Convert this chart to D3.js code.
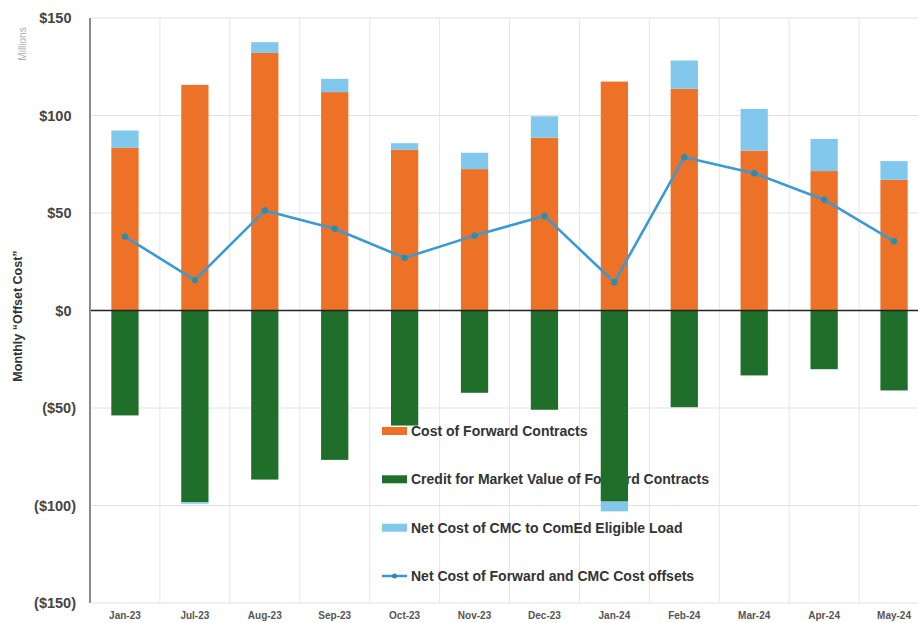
<!DOCTYPE html>
<html>
<head>
<meta charset="utf-8">
<script src="https://cdn.jsdelivr.net/npm/d3@7/dist/d3.min.js"></script>
<style>
  html, body { margin: 0; padding: 0; background: #fff; }
  svg { display: block; font-family: "Liberation Sans", Arial, sans-serif; }
</style>
</head>
<body>
<svg id="chart" width="918" height="623"></svg>
<script>
// Monthly offset cost components, $ millions
const months = ["Jan-23", "Jul-23", "Aug-23", "Sep-23", "Oct-23", "Nov-23",
                "Dec-23", "Jan-24", "Feb-24", "Mar-24", "Apr-24", "May-24"];
const forwardCost = [83.4, 115.7, 132.1, 112.0, 82.4, 72.5, 88.6, 117.4, 113.7, 82.0, 71.5, 67.0];
const marketCredit = [-53.8, -98.3, -86.7, -76.6, -59.0, -42.2, -50.9, -98.0, -49.6, -33.3, -30.1, -41.0];
const cmcNetCost = [8.9, -0.8, 5.5, 6.8, 3.4, 8.4, 11.0, -5.0, 14.5, 21.4, 16.5, 9.6];
const netOffset = [37.9, 15.6, 51.3, 41.9, 27.0, 38.4, 48.5, 14.5, 78.6, 70.4, 56.8, 35.5];
const yTicks = [-150, -100, -50, 0, 50, 100, 150];

const seriesNames = ["Cost of Forward Contracts",
                     "Credit for Market Value of Forward Contracts",
                     "Net Cost of CMC to ComEd Eligible Load",
                     "Net Cost of Forward and CMC Cost offsets"];
const colors = ["#EE7128", "#1F6F2B", "#82C8EC", "#3A9BD3"];

const svg = d3.select("#chart");

const x = d3.scaleBand()
  .domain(months)
  .range([90, 929])
  .paddingInner(0.61)
  .paddingOuter(0.305);
const y = d3.scaleLinear().domain([-150, 150]).range([603, 18]);
const step = x.step();

// horizontal gridlines
svg.append("g").selectAll("line").data(yTicks.filter(v => v !== 0)).join("line")
  .attr("x1", 90).attr("x2", 918)
  .attr("y1", d => y(d)).attr("y2", d => y(d))
  .attr("stroke", "#e2e2e2").attr("stroke-width", 1);

// vertical gridlines at category boundaries
svg.append("g").selectAll("line").data(months.slice(1)).join("line")
  .attr("x1", d => x(d) + x.bandwidth() / 2 - step / 2)
  .attr("x2", d => x(d) + x.bandwidth() / 2 - step / 2)
  .attr("y1", y(150)).attr("y2", y(-150))
  .attr("stroke", "#e6e6e6").attr("stroke-width", 1);

// legend (sits under the bars)
const legend = svg.append("g").attr("transform", "translate(382,0)");
const legendY = [431, 479.3, 527.7, 576];
seriesNames.forEach((name, i) => {
  const g = legend.append("g").attr("transform", `translate(0,${legendY[i]})`);
  if (i < 3) {
    g.append("rect").attr("x", 0).attr("y", -4).attr("width", 25).attr("height", 8)
      .attr("fill", colors[i]);
  } else {
    g.append("line").attr("x1", 0).attr("x2", 25).attr("y1", 0).attr("y2", 0)
      .attr("stroke", colors[3]).attr("stroke-width", 2.5);
    g.append("circle").attr("cx", 12.5).attr("cy", 0).attr("r", 2.5).attr("fill", "#2F8CAA");
  }
  g.append("text").attr("x", 29).attr("y", 0).attr("dy", "0.35em")
    .attr("font-size", 14).attr("font-weight", "bold").attr("fill", "#333")
    .text(name);
});

// stacked bars: positives stack upward, negatives downward
const rows = months.map((m, i) => ({ month: m, fwd: forwardCost[i], credit: marketCredit[i], cmc: cmcNetCost[i] }));
const stack = d3.stack().keys(["fwd", "credit", "cmc"]).offset(d3.stackOffsetDiverging);
const layers = stack(rows);

svg.append("g").selectAll("g").data(layers).join("g")
  .attr("fill", (d, i) => colors[i])
  .selectAll("rect").data(d => d).join("rect")
  .attr("x", d => x(d.data.month))
  .attr("width", x.bandwidth())
  .attr("y", d => y(Math.max(d[0], d[1])))
  .attr("height", d => Math.abs(y(d[0]) - y(d[1])));

// zero line
svg.append("line").attr("x1", 90).attr("x2", 918).attr("y1", y(0)).attr("y2", y(0))
  .attr("stroke", "#222").attr("stroke-width", 1.6);

// net cost line
const line = d3.line().x((d, i) => x(months[i]) + x.bandwidth() / 2).y(d => y(d));
svg.append("path").datum(netOffset).attr("d", line)
  .attr("fill", "none").attr("stroke", colors[3]).attr("stroke-width", 2.6)
  .attr("stroke-linejoin", "round");
svg.append("g").selectAll("circle").data(netOffset).join("circle")
  .attr("cx", (d, i) => x(months[i]) + x.bandwidth() / 2)
  .attr("cy", d => y(d)).attr("r", 3.2).attr("fill", "#2F8CAA");

// y axis: accounting-style labels, positives leave room for the closing parenthesis
const yAxis = d3.axisLeft(y).tickValues(yTicks).tickSize(0).tickPadding(0)
  .tickFormat(v => v < 0 ? `($${Math.abs(v)})` : `$${v}`);
const ya = svg.append("g").attr("transform", "translate(76,0)").call(yAxis);
ya.select(".domain").remove();
ya.selectAll("text").attr("font-size", 14.5).attr("font-weight", "bold").attr("fill", "#444")
  .attr("font-family", "Liberation Sans, Arial, sans-serif")
  .attr("dx", v => v < 0 ? 0 : -4.5);

svg.append("line").attr("x1", 90).attr("x2", 90).attr("y1", y(150)).attr("y2", y(-150))
  .attr("stroke", "#8a8a8a").attr("stroke-width", 2);

// x axis labels
const xAxis = d3.axisBottom(x).tickSize(0).tickPadding(0);
const xa = svg.append("g").attr("transform", "translate(0,612)").call(xAxis);
xa.select(".domain").remove();
xa.selectAll("text").attr("font-size", 10).attr("font-weight", "bold").attr("fill", "#555")
  .attr("font-family", "Liberation Sans, Arial, sans-serif");

// axis titles
svg.append("text").attr("transform", "translate(22,316) rotate(-90)")
  .attr("text-anchor", "middle").attr("font-size", 12.5).attr("font-weight", "bold")
  .attr("fill", "#333").text("Monthly \u201COffset Cost\u201D");
svg.append("text").attr("transform", "translate(26,44) rotate(-90)")
  .attr("text-anchor", "middle").attr("font-size", 10)
  .attr("fill", "#b0b0b0").text("Millions");
</script>
</body>
</html>
